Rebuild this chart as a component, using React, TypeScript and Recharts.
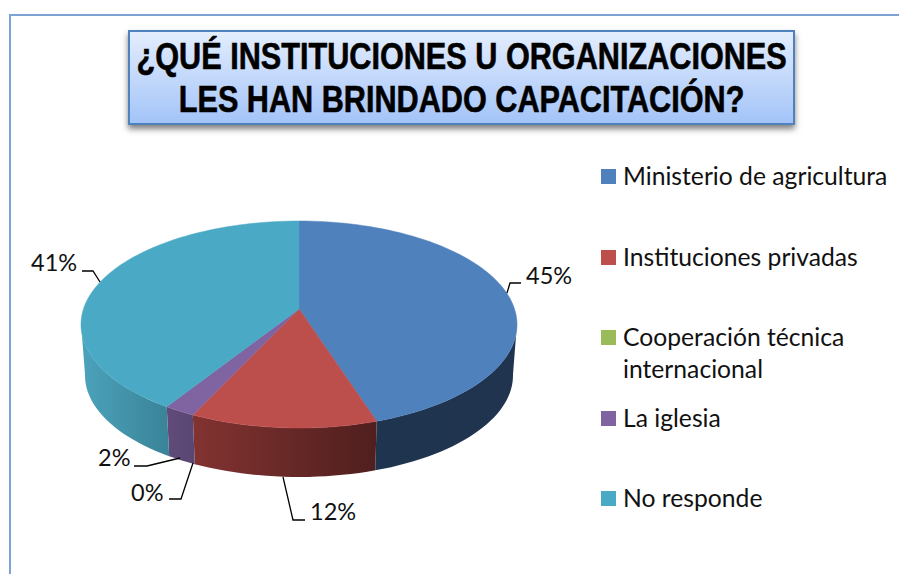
import React from 'react';
import { PieChart, Pie, Cell, Legend } from 'recharts';

const titleLines = ['¿QUÉ INSTITUCIONES U ORGANIZACIONES', 'LES HAN BRINDADO CAPACITACIÓN?'];
const categories = [
  'Ministerio de agricultura',
  'Instituciones privadas',
  'Cooperación técnica internacional',
  'La iglesia',
  'No responde',
];
const shares = [45, 12, 0, 2, 41];
const colors = ['#4F81BD', '#BC4F4C', '#9BBB59', '#8064A2', '#4AA9C4'];

const data = categories.map((name, i) => ({ name, value: shares[i] }));

// ellipse of the lid and of the base, the pie is tilted so its hub sits above the ellipse centre
const LID = { x: 299, y: 324.5, rx: 218, ry: 103.5 };
const BASE = { x: 299, y: 375.5, rx: 214, ry: 101.5 };
const HUB = -0.15;
const WALL_FROM = 98;
const WALL_TO = 262;

// where each percent label goes: leader elbow and text anchor
const labelSpots = [
  { tx: 526, ty: 284, path: [[507, 293], [510, 283], [521, 283]] },
  { tx: 310, ty: 520, path: [[283, 477], [293, 520], [305, 520]] },
  { tx: 131, ty: 501, path: [[193, 463], [181, 499], [169, 499]] },
  { tx: 98, ty: 466, path: [[180, 458], [147, 466], [134, 466]] },
  { tx: 31, ty: 271, path: [[100, 282], [93, 271], [82, 271]] },
];

const rim = (e: typeof LID, deg: number) => {
  const a = (deg * Math.PI) / 180;
  const u = Math.sin(a);
  const v = -Math.cos(a);
  const k = 1 + HUB * v;
  return [e.x + (e.rx * u * Math.sqrt(1 - HUB * HUB)) / k, e.y + (e.ry * (v + HUB)) / k];
};

const arc = (e: typeof LID, from: number, to: number) => {
  const pts: number[][] = [];
  const n = Math.max(2, Math.ceil(Math.abs(to - from) / 2));
  for (let i = 0; i <= n; i++) pts.push(rim(e, from + ((to - from) * i) / n));
  return pts;
};

const toPath = (pts: number[][]) => pts.map((p, i) => `${i ? 'L' : 'M'}${p[0].toFixed(2)},${p[1].toFixed(2)}`).join(' ') + ' Z';

const Slice3D = (props: any) => {
  const { startAngle, endAngle, fill, index } = props;
  const from = 90 - startAngle;
  const to = 90 - endAngle;
  if (to - from < 0.01) return null;
  const hub = [LID.x, LID.y + LID.ry * HUB];
  const lid = toPath([hub, ...arc(LID, from, to)]);
  const a = Math.max(from, WALL_FROM);
  const b = Math.min(to, WALL_TO);
  const wall = a < b ? toPath([...arc(LID, a, b), ...arc(BASE, b, a)]) : null;
  return (
    <g>
      {wall && <path d={wall} fill={`url(#wall${index})`} stroke="none" />}
      <path d={lid} fill={fill} stroke={fill} strokeWidth={0.5} />
    </g>
  );
};

const PercentLabel = (props: any) => {
  const spot = labelSpots[props.index];
  return (
    <g>
      <polyline points={spot.path.map((p) => p.join(',')).join(' ')} fill="none" stroke="#000" strokeWidth={1.3} />
      <text x={spot.tx} y={spot.ty} fontFamily="Lato" fontSize={23.5} fill="#111" textAnchor="start">
        {`${shares[props.index]}%`}
      </text>
    </g>
  );
};

const LegendList = ({ payload }: any) => (
  <div style={{ width: 290 }}>
    {payload.map((item: any) => (
      <div key={item.value} style={{ height: 80.5, display: 'flex', alignItems: 'flex-start' }}>
        <span style={{ width: 15, height: 15, marginTop: 8, marginRight: 7, background: item.color, flex: 'none' }} />
        <span style={{ fontFamily: 'Lato', fontSize: 24.7, lineHeight: '32px', color: '#111', width: 268, marginTop: -1 }}>{item.value}</span>
      </div>
    ))}
  </div>
);

export default function App() {
  return (
    <div style={{ position: 'absolute', left: 0, top: 0, width: 899, height: 574, background: '#fff', overflow: 'hidden' }}>
      <div style={{ position: 'absolute', left: 9, top: 14, width: 890, height: 1.5, background: '#7DA3D6' }} />
      <div style={{ position: 'absolute', left: 9, top: 14, width: 1.5, height: 560, background: '#7DA3D6' }} />
      <PieChart width={899} height={574} style={{ position: 'absolute', left: 0, top: 0 }} margin={{ top: 0, right: 0, bottom: 0, left: 0 }}>
        <defs>
          <linearGradient id="wall0" x1="0" y1="0" x2="1" y2="0">
            <stop offset="0" stopColor="#1F344F" />
            <stop offset="1" stopColor="#20344F" />
          </linearGradient>
          <linearGradient id="wall1" x1="0" y1="0" x2="1" y2="0">
            <stop offset="0" stopColor="#823331" />
            <stop offset="1" stopColor="#4F1F1E" />
          </linearGradient>
          <linearGradient id="wall2" x1="0" y1="0" x2="1" y2="0">
            <stop offset="0" stopColor="#687F3A" />
            <stop offset="1" stopColor="#687F3A" />
          </linearGradient>
          <linearGradient id="wall3" x1="0" y1="0" x2="1" y2="0">
            <stop offset="0" stopColor="#604B7A" />
            <stop offset="1" stopColor="#5A4672" />
          </linearGradient>
          <linearGradient id="wall4" x1="0" y1="0" x2="1" y2="0">
            <stop offset="0" stopColor="#4BA3BB" />
            <stop offset="1" stopColor="#3A8398" />
          </linearGradient>
        </defs>
        <Pie
          data={data}
          dataKey="value"
          nameKey="name"
          cx={LID.x}
          cy={LID.y}
          outerRadius={LID.rx}
          startAngle={90}
          endAngle={-270}
          paddingAngle={0}
          stroke="none"
          shape={Slice3D}
          label={PercentLabel}
          labelLine={false}
          isAnimationActive={false}
        >
          {colors.map((c) => (
            <Cell key={c} fill={c} />
          ))}
        </Pie>
        <Legend
          layout="vertical"
          align="right"
          verticalAlign="top"
          itemSorter={null}
          wrapperStyle={{ left: 601, top: 161, width: 290 }}
          content={LegendList}
        />
      </PieChart>
      <div
        style={{
          position: 'absolute',
          left: 128,
          top: 30,
          width: 667,
          height: 95,
          boxSizing: 'border-box',
          border: '2px solid #4F81BD',
          background: 'linear-gradient(#E3EDFE, #A3C4F8)',
          boxShadow: '0 4px 6px rgba(0,0,0,0.5)',
          fontFamily: '"Liberation Sans", Arial',
          fontWeight: 700,
          fontSize: 37,
          lineHeight: '43px',
          paddingTop: 3,
          color: '#000',
          display: 'flex',
          flexDirection: 'column',
          alignItems: 'center',
        }}
      >
        {titleLines.map((t) => (
          <div key={t} style={{ whiteSpace: 'nowrap', transform: 'scaleX(0.828)', WebkitTextStroke: '0.6px #000' }}>
            {t}
          </div>
        ))}
      </div>
    </div>
  );
}
